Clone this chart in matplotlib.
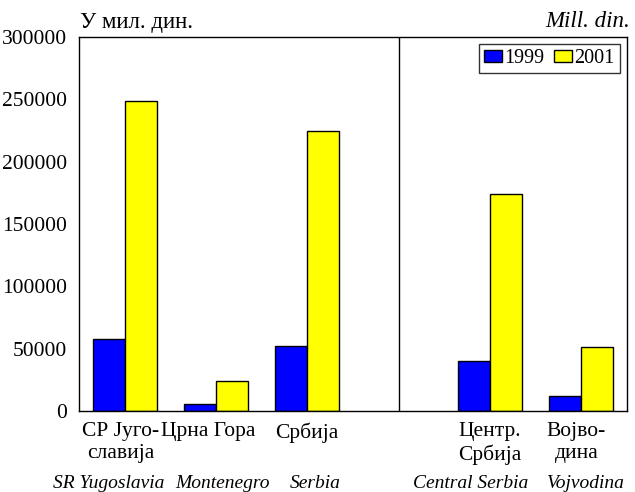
import numpy as np
import matplotlib.pyplot as plt

# regions (slot 3 is an empty gap with a separator line)
slots = [0, 1, 2, 4, 5]
labels_sr = ["СР Југо-\nславија", "Црна Гора", "Србија", "Центр.\nСрбија", "Војво-\nдина"]
labels_en = ["SR Yugoslavia", "Montenegro", "Serbia", "Central Serbia", "Vojvodina"]
v1999 = [58000, 5800, 52000, 40000, 12000]
v2001 = [249000, 24000, 225000, 174000, 51000]

# small horizontal nudges of the category labels (in slot units)
sr_shift = [-0.04, -0.08, 0.0, 0.0, -0.05]
en_shift = [-0.17, 0.07, 0.09, -0.21, 0.055]

plt.rcParams['font.family'] = ['Liberation Serif', 'DejaVu Serif']

fig = plt.figure(figsize=(6.35, 4.92), dpi=100)
ax = fig.add_axes([0.1244, 0.1646, 0.8626, 0.7602])

x = np.array(slots)
w = 0.35
ax.bar(x - w / 2, v1999, w, color='#0000FF', edgecolor='black', linewidth=1, label='1999')
ax.bar(x + w / 2, v2001, w, color='#FFFF00', edgecolor='black', linewidth=1, label='2001')

ax.axvline(3, color='black', linewidth=1)

ax.set_xlim(-0.5, 5.5)
ax.set_ylim(0, 300000)
ax.set_yticks(range(0, 300001, 50000))
ax.tick_params(axis='y', length=0, pad=8.5, labelsize=15.5)
ax.set_xticks([])
for s in ax.spines.values():
    s.set_linewidth(1)

for xi, lab, d in zip(slots, labels_sr, sr_shift):
    ax.text(xi + d, -0.03, lab, transform=ax.get_xaxis_transform(), ha='center', va='top',
            fontsize=15.5, linespacing=1.2)
for xi, lab, d in zip(slots, labels_en, en_shift):
    ax.text(xi + d, -0.206, lab, transform=ax.get_xaxis_transform(), ha='center', va='baseline',
            fontsize=14, style='italic')

fig.text(0.126, 0.943, "У мил. дин.", fontsize=16.5, ha='left', va='baseline')
fig.text(0.992, 0.945, "Mill. din.", fontsize=16.5, ha='right', va='baseline', style='italic')

leg = ax.legend(loc='upper right', ncol=2, fontsize=14.5, frameon=True, fancybox=False,
                edgecolor='black', handlelength=0.9, handleheight=0.55, handletextpad=0.1,
                columnspacing=0.5, borderpad=0.25, borderaxespad=0.35)
leg.get_frame().set_linewidth(1)

fig.savefig('out.png', dpi=100)
